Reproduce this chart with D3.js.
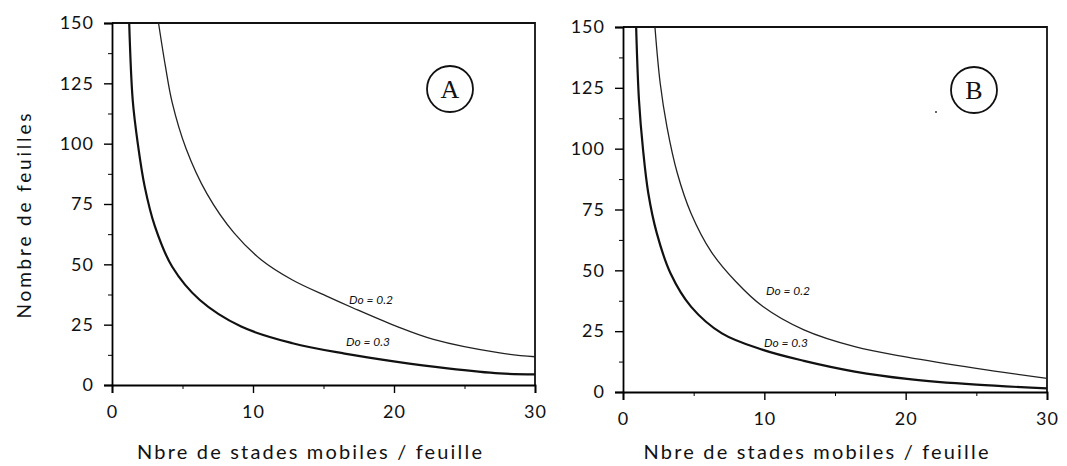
<!DOCTYPE html>
<html>
<head>
<meta charset="utf-8">
<script src="https://cdn.jsdelivr.net/npm/d3@7"></script>
<style>
  body { margin: 0; background: #fff; }
  svg { display: block; }
  text { font-family: Lato, "Open Sans", sans-serif; fill: #111; }
</style>
</head>
<body>
<svg id="chart" width="1067" height="466"></svg>
<script>
// tick values
var xTicks = [0, 10, 20, 30]
var xMinor = [5, 15, 25]
var yTicks = [0, 25, 50, 75, 100, 125, 150]
var yMinor = [12.5, 37.5, 62.5, 87.5, 112.5, 137.5]

// panel A curves [x, y]
var a_do03 = [[1.22, 150], [1.47, 118], [1.83, 100], [2.32, 82.2], [3.05, 65.6], [4.27, 49.0], [6.23, 35.2],
  [9.16, 24.2], [12.8, 17.3], [16.5, 13.0], [20.1, 9.7], [23.8, 6.9], [27.5, 4.8], [30, 4.4]]
var a_do02 = [[3.30, 150], [3.79, 132], [4.27, 117], [5.25, 98], [6.72, 79.4], [8.67, 62.9], [10.6, 51.8],
  [12.8, 43.5], [15.3, 36.6], [17.1, 31.9], [20.1, 24.5], [22.8, 18.9], [27.5, 13.3], [30, 11.7]]

// panel B curves [x, y]
var b_do03 = [[0.93, 150], [1.13, 120], [1.42, 99.5], [1.79, 81.7], [2.39, 65.3], [3.36, 48.8], [4.81, 35.1],
  [7.0, 24.1], [9.9, 17.3], [12.8, 12.8], [16.4, 8.4], [20.1, 5.4], [25.0, 3.0], [30, 1.5]]
var b_do02 = [[2.26, 150], [2.63, 127], [3.11, 109], [3.84, 90], [4.81, 73.5], [6.26, 57.5], [7.96, 45.5],
  [9.9, 35.1], [12.8, 25.5], [16.4, 18.6], [20.1, 14.3], [25.0, 9.7], [30, 5.6]]

var xTitle = "Nbre de stades mobiles / feuille"
var yTitle = "Nombre de feuilles"

var svg = d3.select("#chart")

function draw_panel(p) {
    var x = d3.scaleLinear().domain([0, 30]).range([p.left, p.right])
    var y = d3.scaleLinear().domain([0, 150]).range([p.bottom, p.top])
    var g = svg.append("g")

    // frame: top and right
    g.append("path")
        .attr("d", "M" + x(0) + "," + y(150) + "H" + x(30) + "V" + y(0))
        .attr("fill", "none").attr("stroke", "#111").attr("stroke-width", 1.8)

    var yAxis = d3.axisLeft(y).tickValues(yTicks).tickSize(8).tickPadding(10)
    g.append("g").attr("transform", "translate(" + x(0) + ",0)").call(yAxis)
        .call(s => s.select(".domain").attr("stroke-width", 1.8))
        .call(s => s.selectAll("line").attr("stroke-width", 1.4))
        .call(s => s.selectAll("text").style("font-size", "18px").style("letter-spacing", "1px")
            .style("font-family", "Lato, sans-serif").attr("fill", "#111"))
    g.append("g").attr("transform", "translate(" + x(0) + ",0)")
        .call(d3.axisLeft(y).tickValues(yMinor).tickSize(4).tickFormat(""))
        .call(s => s.select(".domain").remove())

    var xAxis = d3.axisBottom(x).tickValues(xTicks).tickSize(8).tickPadding(12)
    g.append("g").attr("transform", "translate(0," + y(0) + ")").call(xAxis)
        .call(s => s.select(".domain").attr("stroke-width", 1.8))
        .call(s => s.selectAll("line").attr("stroke-width", 1.4))
        .call(s => s.selectAll("text").style("font-size", "18px").style("letter-spacing", "1px")
            .style("font-family", "Lato, sans-serif").attr("fill", "#111"))
    g.append("g").attr("transform", "translate(0," + y(0) + ")")
        .call(d3.axisBottom(x).tickValues(xMinor).tickSize(4).tickFormat(""))
        .call(s => s.select(".domain").remove())

    var line = d3.line().x(d => x(d[0])).y(d => y(d[1])).curve(d3.curveCatmullRom.alpha(0.5))

    g.append("path").datum(p.do03).attr("d", line)
        .attr("fill", "none").attr("stroke", "#111").attr("stroke-width", 2.2)
    g.append("path").datum(p.do02).attr("d", line)
        .attr("fill", "none").attr("stroke", "#222").attr("stroke-width", 1.3)

    g.append("text").attr("x", p.lab02[0]).attr("y", p.lab02[1])
        .style("font-size", "12px").style("font-style", "italic").text("Do = 0.2")
    g.append("text").attr("x", p.lab03[0]).attr("y", p.lab03[1])
        .style("font-size", "12px").style("font-style", "italic").text("Do = 0.3")

    // panel letter in a circle
    g.append("circle").attr("cx", p.badge[0]).attr("cy", p.badge[1]).attr("r", 23)
        .attr("fill", "none").attr("stroke", "#111").attr("stroke-width", 1.8)
    g.append("text").attr("x", p.badge[0]).attr("y", p.badge[1] + 9)
        .attr("text-anchor", "middle")
        .style("font-family", "'Liberation Serif', 'DejaVu Serif', serif").style("font-size", "26px")
        .text(p.letter)

    g.append("text").attr("x", (p.left + p.right) / 2 + p.titleDx).attr("y", 459)
        .attr("text-anchor", "middle").style("font-size", "20px")
        .attr("textLength", 345).attr("lengthAdjust", "spacing")
        .text(xTitle)
}

draw_panel({
    left: 112, right: 535, top: 23, bottom: 385,
    do03: a_do03, do02: a_do02, letter: "A",
    lab02: [349, 304], lab03: [346, 346], badge: [450, 89], titleDx: -14
})
draw_panel({
    left: 623, right: 1047, top: 27, bottom: 392,
    do03: b_do03, do02: b_do02, letter: "B",
    lab02: [766, 295], lab03: [764, 347], badge: [974, 90], titleDx: -19
})

svg.append("circle").attr("cx", 936).attr("cy", 112).attr("r", 1).attr("fill", "#333")

svg.append("text").attr("transform", "translate(31,216) rotate(-90)")
    .attr("text-anchor", "middle").style("font-size", "19px")
    .attr("textLength", 205).attr("lengthAdjust", "spacing")
    .text(yTitle)
</script>
</body>
</html>
